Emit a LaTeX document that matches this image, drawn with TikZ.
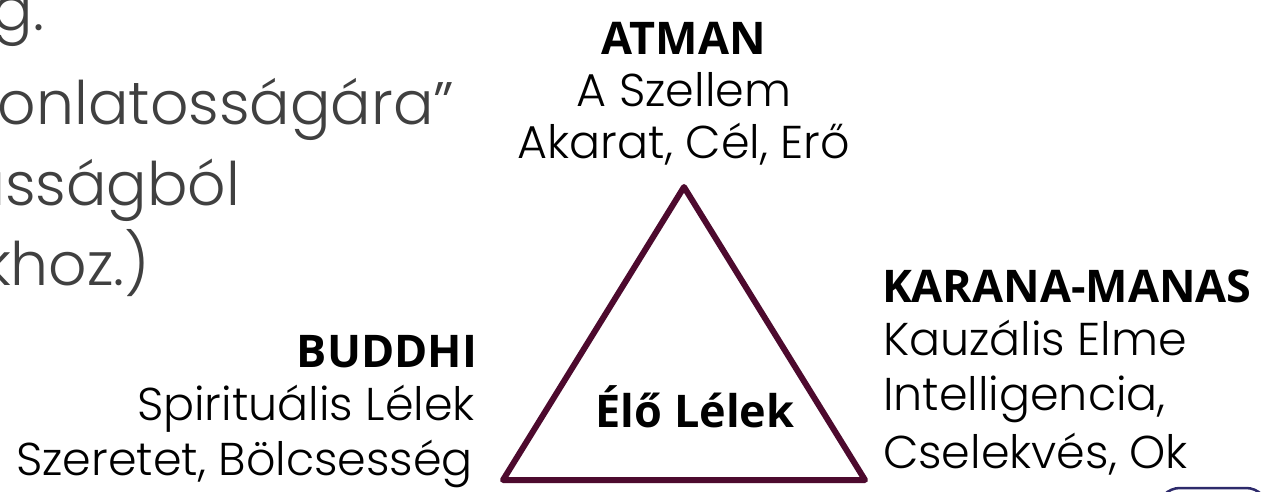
\documentclass[tikz,border=0pt]{standalone}
\usepackage{fontspec}
\setmainfont{Poppins}[UprightFont=* Light]
\newfontfamily\boldfam{Open Sans}[BoldFont={* Bold}]
\begin{document}
\begin{tikzpicture}[x=1pt,y=-1pt,
  lbl/.style={inner sep=0pt,outer sep=0pt,font=\fontsize{46}{52}\selectfont},
  head/.style={inner sep=0pt,outer sep=0pt,font=\boldfam\bfseries\fontsize{45}{52}\selectfont},
  bigtxt/.style={inner sep=0pt,outer sep=0pt,text=textgray,font=\fontsize{60}{80}\selectfont}]
\definecolor{textgray}{HTML}{404040}
\definecolor{tricol}{HTML}{4D0A2E}
\definecolor{boxcol}{HTML}{2D2A6B}
\useasboundingbox (0,0) rectangle (1278,492);
\clip (0,0) rectangle (1278,492);
% left partial text
\node[bigtxt,anchor=base east] (l1) at (44,31) {g.};
\node[bigtxt,anchor=base west] (l2) at (-2,125) {onlatosságára”};
\node[bigtxt,anchor=base east] (l3) at (240,205) {usságból};
\node[bigtxt,anchor=base east] (l4) at (150,285) {khoz.)};
% triangle
\coordinate (ta) at (684,187);
\coordinate (tl) at (503,480);
\coordinate (tr) at (865,480);
\draw[tricol,line width=6pt,line join=round] (ta) -- (tl) -- (tr) -- cycle;
\node[head,anchor=base] (center) at (695,427) {Élő Lélek};
% ATMAN
\node[head,anchor=base] (atman) at (684,55) {ATMAN};
\node[lbl,anchor=base] (atman2) at (684,107) {A Szellem};
\node[lbl,anchor=base] (atman3) at (684,159) {Akarat, Cél, Erő};
% BUDDHI
\node[head,anchor=base east] (buddhi) at (477,367) {BUDDHI};
\node[lbl,anchor=base east] (buddhi2) at (475,420) {Spirituális Lélek};
\node[lbl,anchor=base east] (buddhi3) at (473,475) {Szeretet, Bölcsesség};
% KARANA-MANAS
\node[head,anchor=base west] (karana) at (882,302) {KARANA-MANAS};
\node[lbl,anchor=base west] (karana2) at (883,355) {Kauzális Elme};
\node[lbl,anchor=base west] (karana3) at (883,410) {Intelligencia,};
\node[lbl,anchor=base west] (karana4) at (883,468) {Cselekvés, Ok};
% partial box bottom right
\draw[boxcol,line width=2.5pt,rounded corners=22pt] (1158,540) rectangle (1268,488);
\end{tikzpicture}
\end{document}
